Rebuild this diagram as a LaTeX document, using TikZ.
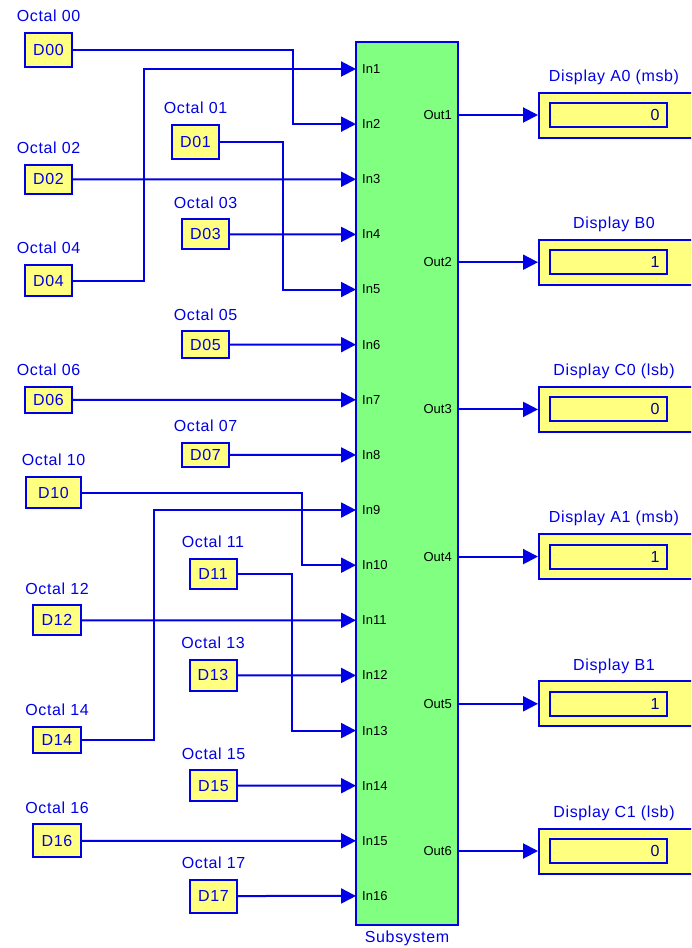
\documentclass[tikz,border=0pt]{standalone}
\usepackage{fontspec}
\setmainfont{Liberation Sans}
\newfontfamily\simfont[LetterSpace=4]{Liberation Sans}
\usetikzlibrary{arrows.meta,positioning}

\definecolor{simblue}{RGB}{0,0,230}
\definecolor{simnavy}{RGB}{0,0,140}
\definecolor{simyellow}{RGB}{255,255,128}
\definecolor{simgreen}{RGB}{128,255,128}

\begin{document}
\begin{tikzpicture}[
  x=1pt, y=-1pt,
  label distance=10pt,
  lbl/.style={inner sep=0pt, text depth=0pt, text=simblue,
    font=\simfont\fontsize{16}{18}\selectfont},
  const/.style={
    draw=simblue, fill=simyellow, line width=2pt, inner sep=0pt,
    text=simblue, font=\simfont\fontsize{16}{18}\selectfont
  },
  subsys/.style={
    draw=simblue, fill=simgreen, line width=2pt, inner sep=0pt,
    minimum width=102pt, minimum height=883pt
  },
  port/.style={inner sep=0pt, font=\fontsize{13}{15}\selectfont},
  display/.style={
    draw=simblue, fill=simyellow, line width=2pt, inner sep=0pt,
    minimum width=160pt, minimum height=45pt
  },
  readout/.style={
    draw=simblue, fill=simyellow, line width=2pt, inner xsep=7.5pt,
    inner ysep=0pt, text width=102pt, align=right, minimum height=24pt,
    text=simnavy, font=\simfont\fontsize{16}{18}\selectfont
  },
  wire/.style={
    draw=simblue, line width=2pt,
    -{Triangle[length=15pt,width=15pt]}
  },
]
\useasboundingbox (0,0) rectangle (691,948);
\clip (0,0) rectangle (691,948);

% =========================== MIDDLE: Subsystem ============================
\node[subsys] (sub) at (407,483.5) {};
\node[lbl, below=5pt of sub] (sublbl) {Subsystem};

\foreach \k in {1,...,16}{
  \coordinate (in\k) at (356, {69 + (\k-1)*55.13});
  \node[port, anchor=west] (inl\k) at ([xshift=6]in\k) {In\k};
}

% =========================== LEFT: constants ==============================
\foreach \n/\cx/\cy/\w/\h in {
  00/48.5/50/47/34,    02/48.5/179.3/47/29,
  04/48.5/280.5/47/31, 06/48.5/399.8/47/26,
  10/53.5/492.5/55/31, 12/57/620.3/48/30,
  14/57/740/48/26,     16/57/840.8/48/33,
  01/195.5/142/47/34,  03/205.5/234.4/47/30,
  05/205.5/344.7/47/27, 07/205.5/454.9/47/24,
  11/213/574/47/30,    13/213/675.4/47/31,
  15/213.5/785.7/47/31, 17/213.5/896/47/33
}{
  \node[const, minimum width=\w, minimum height=\h,
        label={[lbl]above:Octal \n}] (c\n) at (\cx,\cy) {D\n};
}

% straight feeds
\foreach \n/\k in {02/3, 03/4, 05/6, 06/7, 07/8, 12/11, 13/12, 15/14, 16/15, 17/16}{
  \draw[wire] (c\n.east) -- (in\k);
}

% feeds with one bend
\foreach \n/\k/\bx in {00/2/293, 04/1/144, 01/5/283, 10/10/302, 14/9/154, 11/13/292}{
  \draw[wire] (c\n.east) -| (in\k -| \bx,0) -- (in\k);
}

% =========================== RIGHT: displays ==============================
\foreach \k/\name/\txt/\val in {
  1/A0/{Display A0 (msb)}/0,
  2/B0/{Display B0}/1,
  3/C0/{Display C0 (lsb)}/0,
  4/A1/{Display A1 (msb)}/1,
  5/B1/{Display B1}/1,
  6/C1/{Display C1 (lsb)}/0
}{
  \coordinate (out\k) at (458, {115 + (\k-1)*147.2});
  \node[port, anchor=east] (outl\k) at ([xshift=-6]out\k) {Out\k};
  \node[display, label={[lbl, xshift=-5pt]above:\txt}] (d\name)
    at (619, {115 + (\k-1)*147.2}) {};
  \node[readout] (r\name) at ([xshift=-10.5]d\name.center) {\val};
  \draw[wire] (out\k) -- (d\name.west);
}

\end{tikzpicture}
\end{document}
